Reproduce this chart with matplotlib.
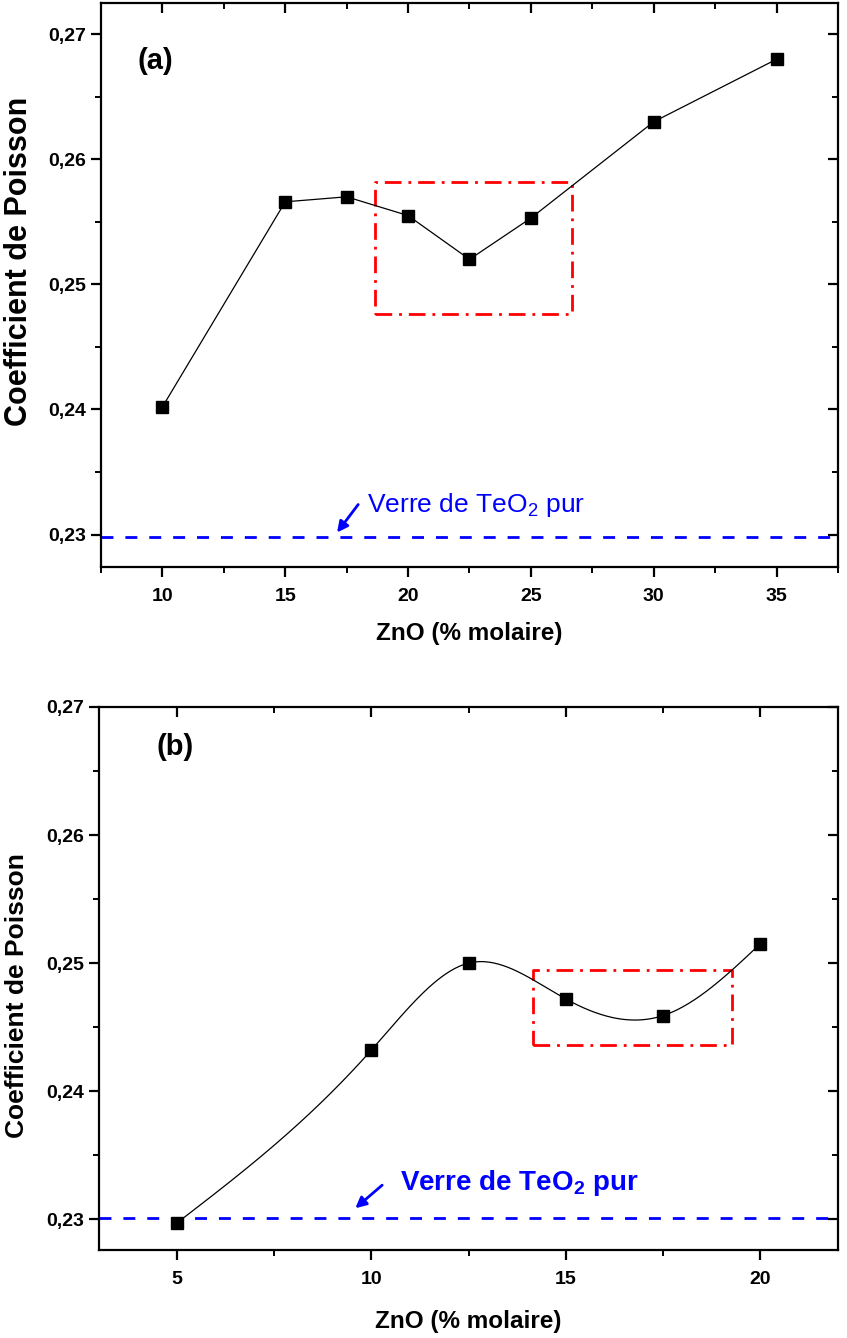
import numpy as np
import matplotlib
matplotlib.use("Agg")
import matplotlib.pyplot as plt
from matplotlib.ticker import MultipleLocator, FuncFormatter

plt.rcParams["font.family"] = ["Liberation Sans", "DejaVu Sans"]
plt.rcParams["font.weight"] = "bold"

# --- data, panel (a) ---
zno_a = [10, 15, 17.5, 20, 22.5, 25, 30, 35]
poisson_a = [0.2402, 0.2566, 0.2570, 0.2555, 0.2520, 0.2553, 0.2630, 0.2680]
box_a = (18.66, 26.67, 0.2476, 0.2582)   # x0, x1, y0, y1
teo2_a = 0.2298

# --- data, panel (b) ---
zno_b = [5, 10, 12.5, 15, 17.5, 20]
poisson_b = [0.2297, 0.2432, 0.2500, 0.2472, 0.2459, 0.2515]
box_b = (14.15, 19.28, 0.2436, 0.2495)
teo2_b = 0.2301


def natural_spline(x, y, n=400):
    """Natural cubic spline through (x, y), for the smooth line of panel (b)."""
    x = np.asarray(x, float)
    y = np.asarray(y, float)
    k = len(x)
    h = np.diff(x)
    A = np.zeros((k, k))
    r = np.zeros(k)
    A[0, 0] = A[-1, -1] = 1.0
    for i in range(1, k - 1):
        A[i, i - 1] = h[i - 1]
        A[i, i] = 2 * (h[i - 1] + h[i])
        A[i, i + 1] = h[i]
        r[i] = 6 * ((y[i + 1] - y[i]) / h[i] - (y[i] - y[i - 1]) / h[i - 1])
    m = np.linalg.solve(A, r)
    xs = np.linspace(x[0], x[-1], n)
    idx = np.clip(np.searchsorted(x, xs) - 1, 0, k - 2)
    x0, x1 = x[idx], x[idx + 1]
    hh = x1 - x0
    a = (x1 - xs) / hh
    b = (xs - x0) / hh
    ys = (a * y[idx] + b * y[idx + 1]
          + ((a ** 3 - a) * m[idx] + (b ** 3 - b) * m[idx + 1]) * hh ** 2 / 6)
    return xs, ys


def style_axes(ax, ylabel_size, ylabel_xy, xlabel_pad):
    for s in ax.spines.values():
        s.set_linewidth(1.6)
    ax.yaxis.set_major_locator(MultipleLocator(0.01))
    ax.yaxis.set_minor_locator(MultipleLocator(0.005))
    ax.xaxis.set_major_locator(MultipleLocator(5))
    ax.xaxis.set_minor_locator(MultipleLocator(2.5))
    ax.yaxis.set_major_formatter(FuncFormatter(lambda v, p: f"{v:.2f}".replace(".", ",")))
    ax.tick_params(which="major", direction="out", length=7, width=1.6, labelsize=14)
    ax.tick_params(which="minor", direction="out", length=4, width=1.4)
    ax.tick_params(axis="x", which="major", pad=8)
    ax.tick_params(axis="y", which="major", pad=4)
    ax.tick_params(which="both", top=True, right=True)
    # top/right ticks point inward, as in Origin
    for t in ax.xaxis.get_major_ticks() + ax.xaxis.get_minor_ticks():
        t.tick2line.set_marker(matplotlib.lines.TICKDOWN)
    for t in ax.yaxis.get_major_ticks() + ax.yaxis.get_minor_ticks():
        t.tick2line.set_marker(matplotlib.lines.TICKLEFT)
    for lbl in ax.get_xticklabels() + ax.get_yticklabels():
        lbl.set_fontweight("bold")
    ax.set_xlabel("ZnO (% molaire)", fontsize=17.5, fontweight="bold", labelpad=xlabel_pad)
    ax.set_ylabel("Coefficient de Poisson", fontsize=ylabel_size, fontweight="bold")
    ax.yaxis.set_label_coords(*ylabel_xy)


def red_box(ax, box):
    x0, x1, y0, y1 = box
    ax.plot([x0, x1, x1, x0, x0], [y0, y0, y1, y1, y0], color="red", lw=2,
            ls=(0, (6, 2.5, 1, 2.5)), zorder=2)


arrow_kw = dict(arrowstyle="-|>", color="blue", lw=2, mutation_scale=16,
                shrinkA=0, shrinkB=0)

fig = plt.figure(figsize=(8.47, 13.38), dpi=100)

# ---------- panel (a) ----------
ax1 = fig.add_axes([0.1192, 0.5762, 0.8702, 0.4216])
ax1.plot(zno_a, poisson_a, color="black", lw=0.9, zorder=3)
ax1.plot(zno_a, poisson_a, ls="none", marker="s", ms=8.5, color="black", zorder=4)
red_box(ax1, box_a)
ax1.axhline(teo2_a, color="blue", lw=2, ls=(0, (4.3, 4.3)))
ax1.annotate("", xy=(17.11, 0.23016), xytext=(17.97, 0.2324), arrowprops=arrow_kw)
ax1.text(18.33, 0.23184, "Verre de TeO$_\\mathregular{2}$ pur", color="blue",
         fontsize=19, fontweight="normal", va="baseline")
ax1.text(8.98, 0.26784, "(a)", fontsize=21, fontweight="bold", va="center")
ax1.set_xlim(7.5, 37.5)
ax1.set_ylim(0.2274, 0.2725)
style_axes(ax1, 22, (-0.091, 0.541), 12)

# ---------- panel (b) ----------
ax2 = fig.add_axes([0.1169, 0.0658, 0.8725, 0.4058])
xs, ys = natural_spline(zno_b, poisson_b)
ax2.plot(xs, ys, color="black", lw=0.9, zorder=3)
ax2.plot(zno_b, poisson_b, ls="none", marker="s", ms=8.5, color="black", zorder=4)
red_box(ax2, box_b)
ax2.axhline(teo2_b, color="blue", lw=2, ls=(0, (4.3, 4.3)))
ax2.annotate("", xy=(9.59, 0.23086), xytext=(10.28, 0.23266), arrowprops=arrow_kw)
ax2.text(10.75, 0.23227, "Verre de TeO$_\\mathregular{2}$ pur", color="blue",
         fontsize=20, fontweight="bold", va="baseline")
ax2.text(4.48, 0.26688, "(b)", fontsize=21, fontweight="bold", va="center")
ax2.set_xlim(3, 22)
ax2.set_ylim(0.2276, 0.2700)
style_axes(ax2, 19, (-0.095, 0.468), 16)

fig.savefig("out.png", dpi=100)
